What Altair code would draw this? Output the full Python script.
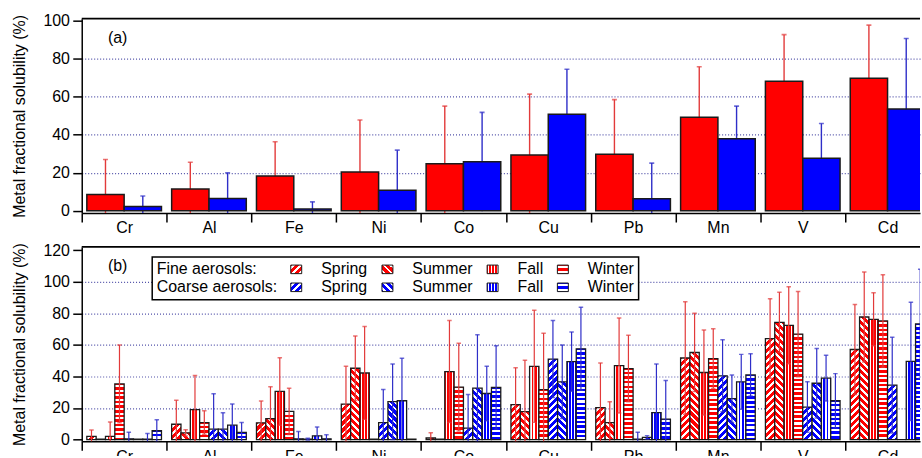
import json
import math
import altair as alt

FONT = "Liberation Sans"

# ---------------- data ----------------
elements = ["Cr", "Al", "Fe", "Ni", "Co", "Cu", "Pb", "Mn", "V", "Cd"]

# panel (a): annual mean and SD
fine_mean = [8.5, 11.5, 18.3, 20.4, 24.8, 29.3, 29.7, 49.2, 68.2, 69.8]
fine_sd = [18.5, 14.0, 18.0, 27.4, 30.3, 32.1, 28.8, 26.6, 24.5, 27.9]
coarse_mean = [2.3, 6.4, 0.9, 10.8, 25.8, 50.8, 6.3, 37.9, 27.7, 53.6]
coarse_sd = [5.5, 13.6, 3.8, 21.1, 26.0, 23.7, 18.8, 17.2, 18.2, 37.1]

# panel (b): seasonal mean and SD
seasons = ["Spring", "Summer", "Fall", "Winter"]
fine_spring_mean = [2.0, 9.7, 10.6, 22.5, 1.0, 22.1, 20.2, 51.7, 64.0, 57.1]
fine_spring_sd = [4.0, 15.3, 13.8, 23.9, 3.3, 23.5, 28.3, 35.6, 25.2, 28.5]
fine_summer_mean = [0.3, 4.3, 13.3, 45.2, 0.2, 17.7, 10.8, 55.2, 74.3, 77.7]
fine_summer_sd = [0.0, 2.0, 20.2, 20.5, 0.0, 32.5, 13.2, 24.8, 19.1, 28.5]
fine_fall_mean = [2.0, 19.0, 30.5, 42.2, 43.1, 46.4, 46.9, 42.5, 72.4, 76.2]
fine_fall_sd = [9.2, 21.6, 21.4, 29.4, 32.3, 35.5, 30.1, 27.0, 24.4, 16.8]
fine_winter_mean = [35.3, 10.8, 17.9, 0.3, 33.2, 31.6, 45.0, 51.3, 66.8, 75.2]
fine_winter_sd = [24.7, 7.5, 14.7, 0.0, 27.8, 35.8, 21.1, 19.0, 27.0, 29.3]

coarse_spring_mean = [0.5, 6.6, 0.5, 10.8, 7.2, 51.0, 0.3, 40.4, 20.6, 34.5]
coarse_spring_sd = [4.2, 22.4, 4.6, 21.0, 21.4, 24.4, 4.4, 22.8, 16.0, 30.4]
coarse_summer_mean = [0.2, 6.6, 0.3, 24.0, 32.6, 36.6, 1.4, 25.9, 35.7, 0.0]
coarse_summer_sd = [0.0, 10.4, 0.5, 23.9, 33.8, 23.3, 1.1, 15.1, 22.1, 0.0]
coarse_fall_mean = [0.3, 9.1, 2.4, 24.6, 29.2, 49.4, 17.1, 36.6, 38.9, 49.6]
coarse_fall_sd = [3.6, 13.4, 5.5, 26.9, 17.2, 18.8, 30.8, 17.4, 14.5, 37.5]
coarse_winter_mean = [5.6, 4.5, 0.5, 0.3, 33.0, 57.5, 12.9, 41.0, 24.6, 73.3]
coarse_winter_sd = [7.0, 6.3, 2.5, 0.0, 26.4, 26.3, 24.5, 13.4, 17.2, 34.6]

# ---------------- layout / style ----------------
W, H = 841, 195
CAT_PX = 85.1
X_MAX = W / CAT_PX
YA = [-1.2, 101.1]
YB = [-1.1, 122.1]
PX_B = H / (YB[1] - YB[0])
RED, BLUE = "#ff0000", "#0000ff"
ERR_RED, ERR_BLUE = "#e23a3a", "#2e2ec8"
GRID = "#5050a8"
P_DIAG, P_HOR, P_VERT = 7.0, 4.6, 3.12

def stripe_stops(color, n_periods, white_frac, phase=0.25):
    n = max(n_periods, 0.5)
    P = 1.0 / n
    segs = []
    k = -2
    while True:
        a = (k + phase) * P
        b = a + white_frac * P
        e = a + P
        for s0, s1, col in ((a, b, "white"), (b, e, color)):
            lo_, hi_ = max(s0, 0.0), min(s1, 1.0)
            if hi_ > lo_:
                segs.append((lo_, hi_, col))
        if e >= 1.0:
            break
        k += 1
    stops = []
    for lo_, hi_, col in segs:
        stops.append({"offset": round(lo_, 4), "color": col})
        stops.append({"offset": round(hi_, 4), "color": col})
    return stops

def hatch(season, color, w, h):
    h = max(h, 0.01)
    r = h / w
    s = (1 + r) / (1 + r * r)
    if season == "Spring":
        geo = {"x1": 0, "y1": 0, "x2": s, "y2": s * r}
        n, wf = (w + h) / P_DIAG, 0.42
    elif season == "Summer":
        geo = {"x1": 0, "y1": 1, "x2": s, "y2": 1 - s * r}
        n, wf = (w + h) / P_DIAG, 0.42
    elif season == "Fall":
        geo = {"x1": 0, "y1": 0, "x2": 1, "y2": 0}
        n, wf = w / P_VERT, 0.4
    else:
        geo = {"x1": 0, "y1": 0, "x2": 0, "y2": 1}
        n, wf = h / P_HOR, 0.45
    g = {"gradient": "linear"}
    g.update(geo)
    g["stops"] = stripe_stops(color, n, wf)
    return g

# ---------------- tables ----------------
rec_a = []
for i, el in enumerate(elements):
    for j, (size, m, s) in enumerate([("Fine", fine_mean[i], fine_sd[i]),
                                      ("Coarse", coarse_mean[i], coarse_sd[i])]):
        x0 = i + 0.06 + 0.44 * j
        rec_a.append({"el": el, "size": size, "v": m, "lo": m - s, "hi": m + s,
                      "x0": x0, "x1": x0 + 0.44, "xc": x0 + 0.22})

season_sets = [
    ("Fine", RED, [(fine_spring_mean, fine_spring_sd), (fine_summer_mean, fine_summer_sd),
                   (fine_fall_mean, fine_fall_sd), (fine_winter_mean, fine_winter_sd)]),
    ("Coarse", BLUE, [(coarse_spring_mean, coarse_spring_sd), (coarse_summer_mean, coarse_summer_sd),
                      (coarse_fall_mean, coarse_fall_sd), (coarse_winter_mean, coarse_winter_sd)]),
]
BW = 0.11
rec_b = []
for i, el in enumerate(elements):
    for j, (size, col, lists) in enumerate(season_sets):
        for si, (ml, sl) in enumerate(lists):
            k = j * 4 + si
            m, s = ml[i], sl[i]
            x0 = i + 0.06 + BW * k
            rec_b.append({"el": el, "size": size, "season": seasons[si],
                          "key": f"{size} {seasons[si]}", "v": m, "sd": s,
                          "lo": m - s, "hi": m + s, "x0": x0, "x1": x0 + BW,
                          "xc": x0 + BW / 2,
                          "grad": hatch(seasons[si], col, BW * CAT_PX, max(m, 0) * PX_B)})
rec_b_err = [r for r in rec_b if r["sd"] > 0]

KEYS = [f"{sz} {se}" for sz in ("Fine", "Coarse") for se in seasons]
LEG_RANGE = [alt.ExprRef(json.dumps(hatch(se, RED if sz == "Fine" else BLUE, 11, 8.6)))
             for sz in ("Fine", "Coarse") for se in seasons]

# ---------------- axes ----------------
XS = alt.Scale(domain=[0, X_MAX], nice=False, zero=False)
label_expr = "datum.value % 1 == 0 ? '' : " + json.dumps(elements) + "[floor(datum.value)]"
AX_X = alt.Axis(values=[v / 2 for v in range(20)], labelExpr=label_expr, title=None,
                grid=False, tickSize=9, tickWidth=1.5, tickColor="black",
                tickOpacity={"condition": {"test": "datum.value % 1 != 0", "value": 0}, "value": 1},
                domainColor="black", domainWidth=1.5, labelFontSize=16, labelColor="black",
                labelPadding=-2, labelFlush=False, labelOverlap=False, labelBound=False)

def y_axis(top):
    return alt.Axis(values=list(range(0, top + 1, 20)), title="Metal fractional solubility (%)",
                    titleFontSize=16, titleFontWeight="normal", titleColor="black", titlePadding=15,
                    tickSize=9, tickWidth=1.5, tickColor="black", domainColor="black",
                    domainWidth=1.5, labelFontSize=16, labelColor="black", labelPadding=3.3,
                    grid=True, gridColor=GRID, gridDash=[1, 2], gridWidth=1.2,
                    gridOpacity={"condition": {"test": f"datum.value == 0 || datum.value == {top}",
                                               "value": 0}, "value": 1})

AX_YA, AX_YB = y_axis(100), y_axis(120)
YSA = alt.Scale(domain=YA, nice=False, zero=False)
YSB = alt.Scale(domain=YB, nice=False, zero=False)
ERR_COL = alt.Scale(domain=["Fine", "Coarse"], range=[ERR_RED, ERR_BLUE])
RECT_A = "M-1,-0.65L1,-0.65L1,0.65L-1,0.65Z"
RECT_B = "M-1,-0.78L1,-0.78L1,0.78L-1,0.78Z"

def frame():
    return alt.Chart(alt.Data(values=[{"a": 0}])).mark_rule(color="black", strokeWidth=1.8).encode(
        x=alt.value(0), x2=alt.value(W), y=alt.value(0))

def tag(t):
    return alt.Chart(alt.Data(values=[{"t": t}])).mark_text(
        font=FONT, fontSize=16, color="black").encode(x=alt.value(36), y=alt.value(19.2), text="t:N")

# ---------------- panel (a) ----------------
da = alt.Data(values=rec_a)
err_a = alt.Chart(da).mark_rule(clip=True, strokeWidth=1.4).encode(
    x=alt.X("xc:Q", scale=XS, axis=AX_X), y=alt.Y("lo:Q", scale=YSA, axis=AX_YA), y2="hi:Q",
    color=alt.Color("size:N", scale=ERR_COL, legend=None))
cap_a = alt.Chart(da).mark_tick(orient="horizontal", size=5, thickness=1.6, clip=True).encode(
    x=alt.X("xc:Q", scale=XS, axis=AX_X), y=alt.Y("hi:Q", scale=YSA, axis=AX_YA),
    color=alt.Color("size:N", scale=ERR_COL, legend=None))
bars_a = alt.Chart(da).mark_bar(stroke="#1a1a1a", strokeWidth=1.5, clip=True).encode(
    x=alt.X("x0:Q", scale=XS, axis=AX_X), x2="x1:Q",
    y=alt.Y("v:Q", scale=YSA, axis=AX_YA), y2=alt.datum(0),
    fill=alt.Fill("size:N", scale=alt.Scale(domain=["Fine", "Coarse"], range=[RED, BLUE]),
                  legend=alt.Legend(title=None, orient="none", legendX=70.7, legendY=9.7,
                                    symbolType=RECT_A, symbolSize=196, symbolStrokeColor="black",
                                    symbolStrokeWidth=1.2, symbolOffset=8, labelFontSize=16,
                                    labelColor="black", labelOffset=10.5, rowPadding=2,
                                    padding=4.5, strokeColor="black", fillColor="white")))
chart_a = alt.layer(err_a, cap_a, bars_a, frame(), tag("(a)")).properties(width=W, height=H)

# ---------------- panel (b) ----------------
db = alt.Data(values=rec_b)
dbe = alt.Data(values=rec_b_err)
leg_b = alt.Chart(db).mark_bar(opacity=0, clip=True).encode(
    x=alt.X("x0:Q", scale=XS, axis=AX_X), x2="x1:Q",
    y=alt.Y("v:Q", scale=YSB, axis=AX_YB), y2=alt.datum(0),
    fill=alt.Fill("key:N", scale=alt.Scale(domain=KEYS, range=LEG_RANGE),
                  legend=alt.Legend(title=["Fine aerosols:", "Coarse aerosols:"], titleOrient="left",
                                    titleAnchor="start", titleBaseline="top", titleLineHeight=18,
                                    titleFontSize=16, titleFontWeight="normal", titleColor="black",
                                    titlePadding=11, titleLimit=400, columns=4,
                                    direction="horizontal", orient="none",
                                    legendX=70.7, legendY=10, symbolType=RECT_B, symbolSize=121,
                                    symbolStrokeColor="black", symbolStrokeWidth=1,
                                    symbolOpacity=1, labelFontSize=16, labelColor="black",
                                    labelOffset=17, columnPadding=11.5, rowPadding=2,
                                    labelExpr="replace(replace(datum.label, 'Fine ', ''), 'Coarse ', '')",
                                    padding=4.5, strokeColor="black", fillColor="white")))
bars_b = alt.Chart(db).mark_bar(stroke="#1a1a1a", strokeWidth=1.3, clip=True).encode(
    x=alt.X("x0:Q", scale=XS, axis=AX_X), x2="x1:Q",
    y=alt.Y("v:Q", scale=YSB, axis=AX_YB), y2=alt.datum(0),
    fill=alt.Fill("grad:N", scale=None))
err_b = alt.Chart(dbe).mark_rule(clip=True, strokeWidth=1.2).encode(
    x=alt.X("xc:Q", scale=XS, axis=AX_X), y=alt.Y("lo:Q", scale=YSB, axis=AX_YB), y2="hi:Q",
    color=alt.Color("size:N", scale=ERR_COL, legend=None))
caph_b = alt.Chart(dbe).mark_tick(orient="horizontal", size=4.5, thickness=1.5, clip=True).encode(
    x=alt.X("xc:Q", scale=XS, axis=AX_X), y=alt.Y("hi:Q", scale=YSB, axis=AX_YB),
    color=alt.Color("size:N", scale=ERR_COL, legend=None))
capl_b = alt.Chart(dbe).mark_tick(orient="horizontal", size=4.5, thickness=1.5, clip=True).encode(
    x=alt.X("xc:Q", scale=XS, axis=AX_X), y=alt.Y("lo:Q", scale=YSB, axis=AX_YB),
    color=alt.Color("size:N", scale=ERR_COL, legend=None))
chart_b = alt.layer(leg_b, bars_b, err_b, caph_b, capl_b, frame(), tag("(b)")).properties(
    width=W, height=H)

chart = alt.vconcat(chart_a, chart_b, spacing=34, bounds="flush").resolve_scale(
    fill="independent", color="independent").resolve_legend(fill="independent").properties(
    padding={"left": 11, "top": 11, "right": 0, "bottom": -10}).configure(
    font=FONT).configure_view(stroke="transparent").configure_axis(
    labelFont=FONT, titleFont=FONT).configure_legend(
    labelFont=FONT, titleFont=FONT, strokeWidth=1.5)

chart.save("out.html", embed_options={"renderer": "svg", "actions": False})
